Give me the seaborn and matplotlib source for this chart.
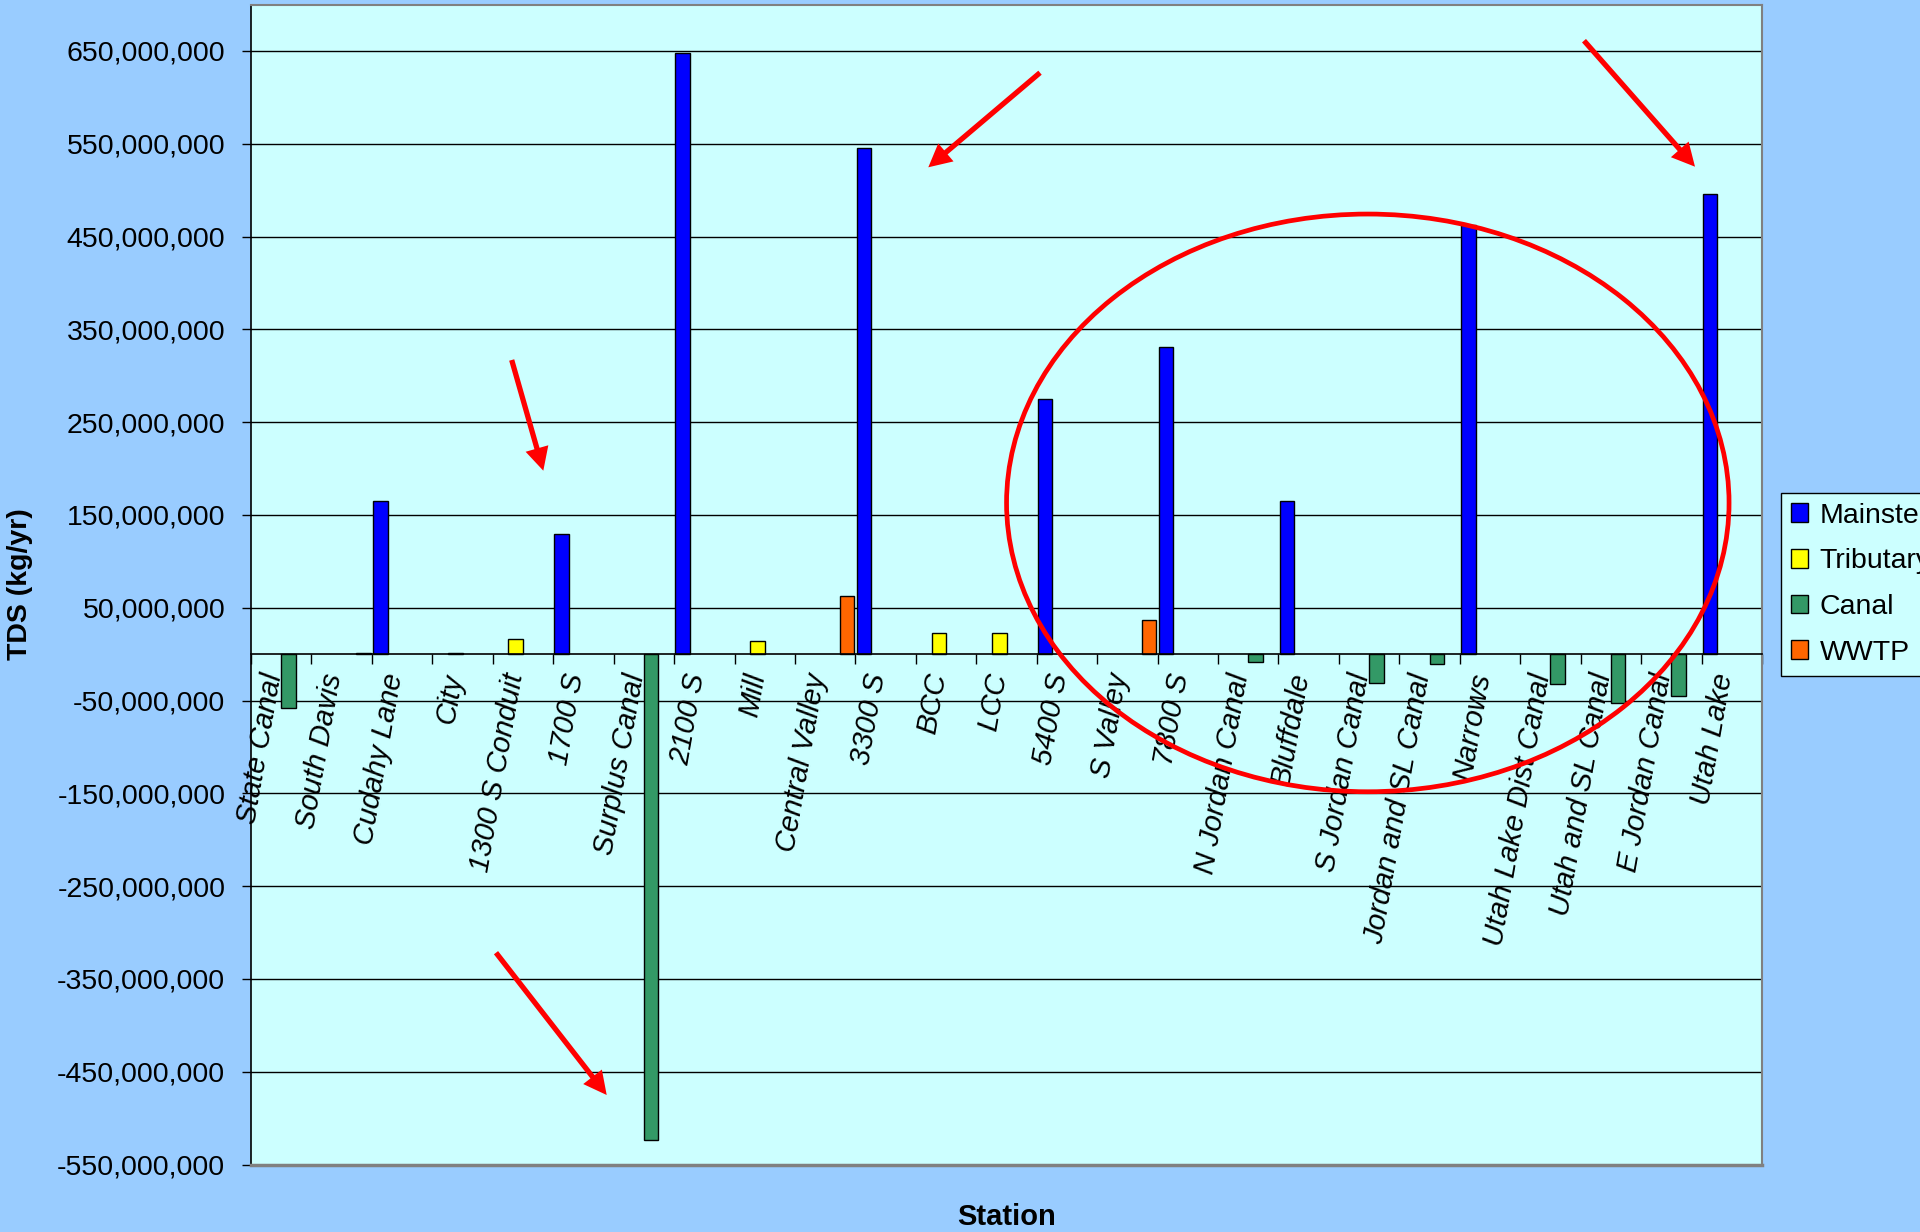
import numpy as np
import pandas as pd
import matplotlib
matplotlib.use("Agg")
import matplotlib.pyplot as plt
import matplotlib.transforms as mtransforms
from matplotlib.patches import Patch, Ellipse, FancyArrowPatch
from matplotlib.lines import Line2D
from matplotlib.ticker import FuncFormatter, FixedLocator
import seaborn as sns

# Monitoring stations along the river, upstream order from left to right in the chart
stations = [
    "State Canal", "South Davis", "Cudahy Lane", "City", "1300 S Conduit",
    "1700 S", "Surplus Canal", "2100 S", "Mill", "Central Valley", "3300 S",
    "BCC", "LCC", "5400 S", "S Valley", "7800 S", "N Jordan Canal",
    "Bluffdale", "S Jordan Canal", "Jordan and SL Canal", "Narrows",
    "Utah Lake Dist Canal", "Utah and SL Canal", "E Jordan Canal", "Utah Lake",
]

# Source type of each station
station_types = [
    "Canal", "WWTP", "Mainstem", "Tributary", "Tributary",
    "Mainstem", "Canal", "Mainstem", "Tributary", "WWTP", "Mainstem",
    "Tributary", "Tributary", "Mainstem", "WWTP", "Mainstem", "Canal",
    "Mainstem", "Canal", "Canal", "Mainstem",
    "Canal", "Canal", "Canal", "Mainstem",
]

# Annual TDS load at each station (kg/yr); canal diversions are negative
tds = [
    -58.5e6, 1.2e6, 165e6, 1.2e6, 16e6,
    129e6, -523e6, 648e6, 14.5e6, 63e6, 545e6,
    22.5e6, 22.5e6, 275e6, 36.5e6, 331e6, -8.3e6,
    165e6, -30.5e6, -10.4e6, 462e6,
    -32.4e6, -53e6, -45e6, 496e6,
]

source_types = ["Mainstem", "Tributary", "Canal", "WWTP"]
type_colors = ["#0000FF", "#FFFF00", "#339966", "#FF6600"]

y_ticks = np.arange(-550e6, 700e6, 100e6)

df = pd.DataFrame({"Station": stations, "Type": station_types, "TDS": tds})
palette = dict(zip(source_types, type_colors))

FONT = "Liberation Sans"
plt.rcParams["font.family"] = [FONT, "DejaVu Sans"]

W, H = 1920, 1232
fig = plt.figure(figsize=(W / 100, H / 100), dpi=100)
fig.patch.set_facecolor("#99CCFF")

ax_left, ax_right, ax_top, ax_bottom = 251, 1762, 4.6, 1164.6
ax = fig.add_axes([ax_left / W, 1 - ax_bottom / H,
                   (ax_right - ax_left) / W, (ax_bottom - ax_top) / H])
ax.set_facecolor("#CCFFFF")

sns.barplot(data=df, x="Station", y="TDS", hue="Type", order=stations,
            hue_order=source_types, palette=palette, saturation=1,
            width=0.96, dodge=True, errorbar=None, edgecolor="black",
            linewidth=1.0, legend=False, ax=ax)

ax.set_xlim(-0.5, len(stations) - 0.5)
ax.set_ylim(-550e6, 700e6)
ax.set_axisbelow(True)

# horizontal gridlines
ax.set_yticks(y_ticks)
ax.yaxis.set_major_formatter(FuncFormatter(lambda v, p: f"{v:,.0f}"))
ax.yaxis.grid(True, color="black", linewidth=1.0)
ax.xaxis.grid(False)
ax.tick_params(axis="y", which="major", length=6.5, width=1.0, pad=12,
               labelsize=20.5, color="black", labelcolor="black")

# category axis sits on the zero line
ax.spines["bottom"].set_position(("data", 0))
ax.spines["bottom"].set_color("black")
ax.spines["bottom"].set_linewidth(1.2)
ax.spines["left"].set_color("black")
ax.spines["left"].set_linewidth(1.2)
for s in ("top", "right"):
    ax.spines[s].set_color("#808080")
    ax.spines[s].set_linewidth(1.5)
ax.add_line(Line2D([0, 1], [0, 0], transform=ax.transAxes, color="#808080",
                   linewidth=2.5, clip_on=False, zorder=3))

ax.set_xticks(range(len(stations)))
ax.set_xticklabels(stations, rotation=80, ha="right", va="center",
                   rotation_mode="anchor", fontsize=21, fontstyle="italic")
ax.xaxis.set_minor_locator(FixedLocator(np.arange(-0.5, len(stations), 1.0)))
ax.tick_params(axis="x", which="major", length=0, pad=14)
ax.tick_params(axis="x", which="minor", length=7.2, width=1.0,
               direction="out", color="black")
shift = mtransforms.ScaledTranslation(-8 / 100, 0, fig.dpi_scale_trans)
for lbl in ax.get_xticklabels():
    lbl.set_transform(lbl.get_transform() + shift)

ax.set_xlabel("Station", fontsize=21, fontweight="bold")
ax.xaxis.set_label_coords(0.5, -0.0327)
ax.set_ylabel("TDS (kg/yr)", fontsize=20.5, fontweight="bold")
ax.yaxis.set_label_coords(-0.1443, 0.5)

# legend, partly running off the right edge of the figure
handles = [Patch(facecolor=c, edgecolor="black", linewidth=1.0) for c in type_colors]
fig.legend(handles, source_types, loc="upper left",
           bbox_to_anchor=(1780.7 / W, 1 - 492.7 / H),
           bbox_transform=fig.transFigure, borderaxespad=0, fontsize=20.5,
           frameon=True, fancybox=False, edgecolor="black",
           facecolor="#CCFFFF", framealpha=1, handlelength=0.62,
           handleheight=0.62, handletextpad=0.4, labelspacing=0.69,
           borderpad=0.35)


def fig_xy(x, y):
    return (x / W, 1 - y / H)


# red call-out arrows
arrows = [((1040, 72.7), (928.3, 167.3)),
          ((1584, 40.7), (1695, 166.7)),
          ((511.7, 360), (543.3, 470.7)),
          ((496, 952.7), (606.7, 1095))]
for tail, tip in arrows:
    fig.add_artist(FancyArrowPatch(
        fig_xy(*tail), fig_xy(*tip), transform=fig.transFigure,
        arrowstyle="simple,head_length=0.83,head_width=0.85,tail_width=0.19",
        mutation_scale=20, color="red", linewidth=0, shrinkA=0, shrinkB=0,
        zorder=10))

# red ellipse around the upstream stations
cx, cy = fig_xy(1367.8, 502.9)
fig.add_artist(Ellipse((cx, cy), 722.5 / W, 577.7 / H,
                       transform=fig.transFigure, fill=False,
                       edgecolor="red", linewidth=3.4, zorder=10))

fig.savefig("out.png", dpi=100, facecolor=fig.get_facecolor())
